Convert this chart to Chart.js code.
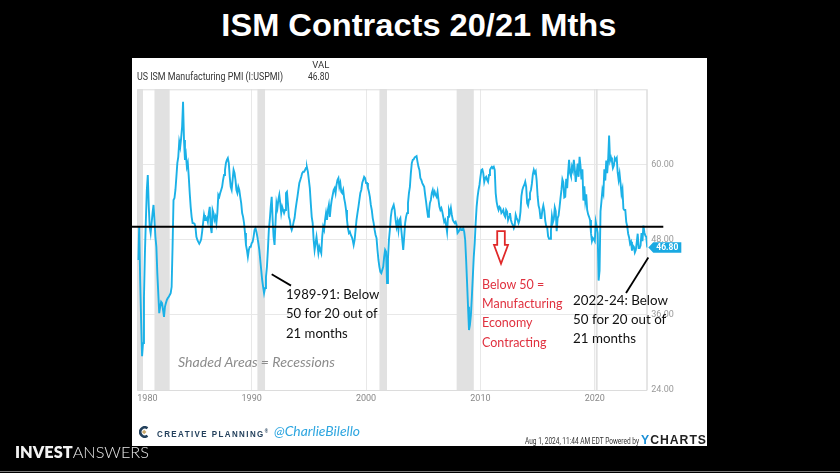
<!DOCTYPE html>
<html>
<head>
<meta charset="utf-8">
<title>ISM Contracts 20/21 Mths</title>
<script src="https://cdn.jsdelivr.net/npm/chart.js@4.4.1/dist/chart.umd.min.js"></script>
<style>
  html, body { margin: 0; padding: 0; }
  body { width: 840px; height: 473px; background: #000; position: relative; overflow: hidden; font-family: "Liberation Sans", Arial, sans-serif; }
  .abs { position: absolute; white-space: nowrap; }
  .fit { display: inline-block; transform-origin: 0 50%; }
  #title { left: 0; top: 9px; width: 838px; text-align: center; color: #fff; font-weight: bold; font-size: 32px; line-height: 32px; }
  #title .fit { transform-origin: 50% 50%; }
  #panel { position: absolute; left: 132px; top: 58px; width: 575px; height: 388px; background: #fff; }
  #chart { position: absolute; left: 132px; top: 58px; }
  #series { left: 136.7px; top: 70.7px; font: 10.5px Roboto, sans-serif; line-height: 12px; color: #333; }
  #valHead { right: 510.7px; top: 59px; font: 9.5px Roboto, sans-serif; line-height: 12px; color: #333; }
  #valNum { right: 510.7px; top: 70.7px; font: 10.5px Roboto, sans-serif; line-height: 12px; color: #333; }
  #valNum .fit { transform-origin: 100% 50%; }
  .note { font: 13px Lato, sans-serif; line-height: 19.3px; color: #111; }
  #ann1 { left: 286px; top: 285px; }
  #shade { left: 177.7px; top: 353px; font-style: italic; color: #8c8c8c; line-height: 19px; }
  #ann2 { left: 481.7px; top: 275px; color: #e0313f; line-height: 19.2px; }
  #ann3 { left: 573.3px; top: 291px; line-height: 19.2px; }
  #logo { position: absolute; left: 139px; top: 426px; }
  #cp { left: 156.7px; top: 426px; font-weight: bold; font-size: 9px; letter-spacing: 1.6px; line-height: 11px; color: #23405c; }
  #cp sup { font-size: 5px; letter-spacing: 0; }
  #handle { left: 274px; top: 424px; font: italic 13px Lato, sans-serif; line-height: 15px; color: #2ea6e0; }
  #stamp { left: 525px; top: 436px; font: 8.5px Roboto, sans-serif; line-height: 10px; color: #333; }
  #ycharts { left: 641px; top: 434px; font-weight: bold; font-size: 12.5px; letter-spacing: 1px; line-height: 13px; color: #222; }
  #ycharts b { color: #1a8fd6; }
  #brand { left: 15px; top: 444px; font: 16px Lato, sans-serif; line-height: 16px; color: #f2f2f2; }
  #brand b { font-weight: 800; }
  #brand span.thin { font-weight: 300; color: #e6e6e6; }
  #baseline { position: absolute; left: 0; top: 471px; width: 840px; height: 1px; background: #777; }
</style>
</head>
<body>
<div id="title" class="abs"><span class="fit" data-w="395">ISM Contracts 20/21 Mths</span></div>
<div id="panel"></div>
<canvas id="chart" width="575" height="388"></canvas>

<div id="series" class="abs"><span class="fit" data-w="146">US ISM Manufacturing PMI (I:USPMI)</span></div>
<div id="valHead" class="abs">VAL</div>
<div id="valNum" class="abs"><span class="fit" data-w="21.3">46.80</span></div>

<div id="ann1" class="abs note"><span class="fit" data-w="93.3">1989-91: Below<br>50 for 20 out of<br>21 months</span></div>
<div id="shade" class="abs note"><span class="fit" data-w="157">Shaded Areas = Recessions</span></div>
<div id="ann2" class="abs note"><span class="fit" data-w="80.6">Below 50 =<br>Manufacturing<br>Economy<br>Contracting</span></div>
<div id="ann3" class="abs note"><span class="fit" data-w="95">2022-24: Below<br>50 for 20 out of<br>21 months</span></div>

<svg id="logo" width="10" height="12" viewBox="0 0 10 12">
  <path d="M8.5 2.2 A4.6 4.6 0 1 0 8.5 9.8" fill="none" stroke="#23405c" stroke-width="2.6"/>
  <rect x="3.6" y="4.4" width="3.2" height="3.2" fill="#c9a86c" transform="rotate(45 5.2 6)"/>
</svg>
<div id="cp" class="abs"><span class="fit" data-w="111">CREATIVE PLANNING<sup>®</sup></span></div>
<div id="handle" class="abs"><span class="fit" data-w="86">@CharlieBilello</span></div>
<div id="stamp" class="abs"><span class="fit" data-w="114">Aug 1, 2024, 11:44 AM EDT Powered by</span></div>
<div id="ycharts" class="abs"><span class="fit" data-w="66"><b>Y</b>CHARTS</span></div>

<div id="brand" class="abs"><span class="fit" data-w="134"><b>INVEST</b><span class="thin">ANSWERS</span></span></div>
<div id="baseline"></div>

<script>
// US ISM Manufacturing PMI, monthly from Jan 1980
const startYear = 1980;

const pmi1980s = [
  44.8, 50.1, 41.6, 35.2, 29.4, 31.5, 38.9, 45.9, 51.2, 56.0, 58.4, 53.5,
  50.1, 49.1, 50.7, 52.3, 53.6, 51.2, 48.5, 46.9, 42.7, 39.5, 36.3, 37.3,
  38.1, 37.9, 36.8, 35.7, 37.3, 37.9, 38.4, 38.7, 38.9, 39.2, 39.5, 40.5,
  46.9, 54.4, 54.7, 56.0, 58.1, 60.3, 61.3, 63.7, 62.9, 64.3, 66.1, 70.1,
  64.0, 60.8, 61.6, 59.7, 60.3, 58.1, 55.5, 53.3, 51.7, 50.7, 50.7, 50.6,
  50.1, 48.5, 48.0, 47.7, 47.4, 47.7, 48.1, 49.3, 50.7, 52.0, 51.2, 51.2,
  51.5, 50.9, 52.3, 53.3, 50.1, 49.1, 52.8, 52.3, 51.2, 51.7, 50.7, 52.3,
  55.2, 54.9, 55.5, 56.0, 56.5, 57.6, 58.4, 59.2, 60.3, 60.8, 61.1, 60.3,
  58.1, 56.5, 56.0, 57.6, 59.2, 58.7, 57.6, 56.0, 55.5, 56.5, 56.0, 54.9,
  53.9, 52.3, 51.7, 50.7, 49.1, 47.2, 46.4, 45.3, 46.4, 46.9, 46.9, 47.5
];

const pmi1990s = [
  47.7, 48.5, 49.6, 49.9, 49.3, 48.5, 47.5, 46.4, 44.8, 43.2, 41.6, 40.5,
  39.5, 40.3, 42.1, 43.7, 46.4, 49.6, 51.2, 53.3, 54.9, 51.2, 48.5, 47.2,
  50.7, 53.9, 53.1, 54.4, 55.2, 53.9, 52.3, 53.3, 52.8, 52.3, 52.8, 55.5,
  55.7, 53.9, 51.7, 51.2, 50.1, 49.6, 50.1, 50.9, 51.5, 52.8, 53.9, 54.9,
  56.0, 57.1, 57.6, 58.1, 58.7, 58.9, 58.9, 59.2, 59.5, 59.6, 58.9, 57.6,
  56.3, 53.9, 51.7, 50.7, 48.0, 46.4, 47.5, 48.5, 47.2, 45.9, 46.9, 46.4,
  45.9, 48.5, 50.1, 49.6, 51.2, 52.3, 51.2, 52.8, 53.6, 51.7, 53.3, 54.4,
  55.2, 56.0, 56.3, 55.5, 56.8, 57.6, 57.9, 56.5, 57.1, 55.7, 55.5, 56.0,
  54.7, 53.9, 52.8, 51.2, 49.9, 49.1, 49.3, 48.8, 48.5, 48.0, 47.2, 48.0,
  49.6, 51.2, 52.3, 53.3, 54.4, 55.5, 56.0, 57.1, 57.6, 58.1, 57.9, 57.1
];

const pmi2000s = [
  57.1, 56.3, 55.7, 54.9, 53.6, 52.8, 51.5, 50.7, 49.6, 48.8, 48.3, 46.4,
  44.8, 43.7, 42.9, 42.7, 43.2, 43.7, 45.3, 46.4, 46.1, 41.1, 45.0, 48.0,
  49.6, 51.7, 52.8, 53.2, 53.6, 52.8, 51.2, 50.1, 50.9, 49.6, 51.2, 51.5,
  49.6, 48.0, 46.4, 48.5, 50.7, 51.7, 52.3, 53.9, 55.5, 56.5, 58.7, 60.3,
  60.8, 60.9, 61.2, 61.3, 61.4, 60.5, 59.7, 59.2, 57.9, 57.6, 57.1, 56.8,
  56.5, 55.2, 54.1, 52.8, 51.7, 52.5, 53.9, 54.4, 55.5, 56.0, 55.2, 55.7,
  55.2, 54.9, 55.7, 54.4, 53.3, 52.8, 53.1, 52.5, 51.7, 50.9, 51.2, 50.4,
  49.3, 51.7, 52.8, 52.3, 53.1, 52.0, 51.2, 50.9, 50.7, 50.9, 50.4, 49.1,
  49.3, 49.6, 49.9, 49.6, 49.6, 49.9, 49.3, 48.0, 44.8, 41.1, 37.3, 33.6,
  34.4, 36.0, 38.9, 42.1, 45.3, 47.5, 50.7, 53.3, 54.9, 56.0, 56.8, 58.1
];

const pmi2010s = [
  59.2, 59.3, 58.7, 57.3, 57.9, 58.1, 57.6, 57.3, 58.4, 59.2, 59.5, 59.7,
  59.5, 59.7, 59.2, 55.5, 54.1, 53.3, 52.8, 53.3, 53.1, 52.3, 52.5, 52.8,
  52.0, 51.7, 52.8, 52.5, 51.2, 51.7, 52.3, 51.2, 50.7, 50.4, 49.9, 50.4,
  52.0, 51.5, 51.2, 50.7, 51.2, 52.5, 55.0, 56.0, 56.5, 56.8, 57.3, 56.5,
  53.9, 53.5, 54.5, 55.5, 56.0, 57.0, 58.5, 59.2, 58.7, 59.0, 57.5, 55.0,
  53.5, 52.9, 51.5, 51.5, 52.8, 53.5, 52.7, 51.1, 50.2, 50.1, 48.6, 48.2,
  48.2, 49.5, 51.8, 50.8, 51.3, 53.2, 52.6, 49.4, 51.5, 51.9, 53.2, 54.7,
  56.0, 57.7, 57.2, 54.8, 54.9, 57.8, 56.3, 58.8, 60.8, 58.7, 58.2, 59.7,
  59.1, 60.8, 59.3, 57.3, 58.7, 60.2, 58.1, 61.3, 59.8, 57.7, 59.3, 54.3,
  56.6, 54.2, 55.3, 52.8, 52.1, 51.7, 51.2, 49.1, 47.8, 48.3, 48.1, 47.8
];

const pmi2020s = [
  50.9, 50.1, 49.1, 41.5, 43.1, 52.6, 54.2, 56.0, 55.4, 59.3, 57.5, 60.7,
  58.7, 60.8, 64.7, 60.7, 61.2, 60.6, 59.5, 59.9, 61.1, 60.8, 61.1, 58.8,
  57.6, 58.6, 57.1, 55.4, 56.1, 53.0, 52.8, 52.8, 50.9, 50.2, 49.0, 48.4,
  47.4, 47.7, 46.3, 47.1, 46.9, 46.0, 46.4, 47.6, 49.0, 46.7, 46.7, 47.1,
  49.1, 47.8, 50.3, 49.2, 48.7, 48.5, 46.8
];

const yearTicks = [1980, 1990, 2000, 2010, 2020];
const valueTicks = [24, 36, 48, 60];

// NBER recessions, peak to trough
const recessions = [
  [1980.0, 1980.5],
  [1981.5, 1982.83],
  [1990.5, 1991.17],
  [2001.17, 2001.83],
  [2007.92, 2009.42],
  [2020.08, 2020.25]
];

const contractionLevel = 50;

const pmiValues = [].concat(pmi1980s, pmi1990s, pmi2000s, pmi2010s, pmi2020s);
// each month plotted at its month end
const pmiPoints = pmiValues.map((v, i) => ({ x: startYear + (i + 1) / 12, y: v }));
const lastValue = pmiValues[pmiValues.length - 1];

// squeeze the html labels to the widths seen on the slide
document.querySelectorAll('[data-w]').forEach(el => {
  const w = el.getBoundingClientRect().width;
  el.style.transform = 'scaleX(' + (+el.dataset.w / w) + ')';
});

const decor = {
  id: 'decor',
  beforeDatasetsDraw(chart) {
    const { ctx, chartArea: a, scales: { x } } = chart;
    ctx.save();
    ctx.fillStyle = '#e1e1e1';
    recessions.forEach(r => {
      const x0 = x.getPixelForValue(r[0]);
      const x1 = x.getPixelForValue(r[1]);
      ctx.fillRect(x0, a.top, x1 - x0, a.bottom - a.top);
    });
    ctx.strokeStyle = '#dcdcdc';
    ctx.lineWidth = 1;
    ctx.strokeRect(a.left + 0.5, a.top + 0.5, a.right - a.left - 1, a.bottom - a.top);
    ctx.restore();
  },
  afterDatasetsDraw(chart) {
    const { ctx, chartArea: a, scales: { x, y } } = chart;
    ctx.save();

    // the 50 line
    const y50 = y.getPixelForValue(contractionLevel + 0.1);
    ctx.strokeStyle = '#000';
    ctx.lineWidth = 2;
    ctx.beginPath();
    ctx.moveTo(0, y50);
    ctx.lineTo(a.right + 16, y50);
    ctx.stroke();

    // callout strokes
    const callout = (x0, v0, x1, v1) => {
      ctx.beginPath();
      ctx.moveTo(x.getPixelForValue(x0), y.getPixelForValue(v0));
      ctx.lineTo(x.getPixelForValue(x1), y.getPixelForValue(v1));
      ctx.stroke();
    };
    ctx.lineWidth = 1.8;
    callout(1991.75, 42.5, 1993.44, 40.7);
    callout(2024.68, 45.2, 2022.73, 39.5);

    // hollow red down arrow
    const cx = x.getPixelForValue(2011.8);
    const top = y.getPixelForValue(49.4);
    const neck = y.getPixelForValue(47.2);
    const tip = y.getPixelForValue(44.2);
    ctx.beginPath();
    ctx.moveTo(cx - 3.8, top);
    ctx.lineTo(cx + 3.8, top);
    ctx.lineTo(cx + 3.8, neck);
    ctx.lineTo(cx + 7, neck);
    ctx.lineTo(cx, tip);
    ctx.lineTo(cx - 7, neck);
    ctx.lineTo(cx - 3.8, neck);
    ctx.closePath();
    ctx.fillStyle = '#fff';
    ctx.fill();
    ctx.strokeStyle = '#e02828';
    ctx.lineWidth = 1.8;
    ctx.stroke();

    // last value tag
    const px = a.right + 1;
    const cy = y.getPixelForValue(lastValue);
    ctx.beginPath();
    ctx.moveTo(px, cy);
    ctx.lineTo(px + 5, cy - 5.3);
    ctx.lineTo(px + 33, cy - 5.3);
    ctx.lineTo(px + 33, cy + 5.3);
    ctx.lineTo(px + 5, cy + 5.3);
    ctx.closePath();
    ctx.fillStyle = '#19a9e2';
    ctx.fill();
    ctx.fillStyle = '#fff';
    ctx.font = 'bold 8.5px Roboto, sans-serif';
    ctx.textAlign = 'center';
    ctx.textBaseline = 'middle';
    ctx.fillText(lastValue.toFixed(2), px + 19, cy + 0.5);
    ctx.restore();
  }
};

new Chart(document.getElementById('chart'), {
  type: 'line',
  data: {
    datasets: [{
      data: pmiPoints,
      borderColor: '#1bb1e7',
      borderWidth: 1.9,
      pointRadius: 0,
      tension: 0
    }]
  },
  options: {
    responsive: false,
    animation: false,
    layout: { padding: { left: 5.3, top: 31.3, right: 14.7, bottom: 40 } },
    plugins: { legend: { display: false }, tooltip: { enabled: false } },
    scales: {
      x: {
        type: 'linear',
        min: 1980,
        max: 2024.59,
        afterBuildTicks: s => { s.ticks = yearTicks.concat([s.max]).map(v => ({ value: v })); },
        afterFit: s => { s.height = 16; },
        ticks: {
          align: 'inner',
          autoSkip: false,
          maxRotation: 0,
          padding: 3,
          color: '#888',
          font: { size: 9, family: 'Roboto' },
          callback: v => yearTicks.includes(v) ? String(v) : ''
        },
        grid: { color: '#e8e8e8', drawTicks: false },
        border: { display: false }
      },
      y: {
        position: 'right',
        min: 24,
        max: 72.1,
        afterBuildTicks: s => { s.ticks = valueTicks.map(v => ({ value: v })); },
        afterFit: s => { s.width = 45; },
        ticks: {
          padding: 4,
          color: '#999',
          font: { size: 9, family: 'Roboto' },
          callback: v => v.toFixed(2)
        },
        grid: { color: '#e8e8e8', drawTicks: false },
        border: { display: false }
      }
    }
  },
  plugins: [decor]
});
</script>
</body>
</html>
